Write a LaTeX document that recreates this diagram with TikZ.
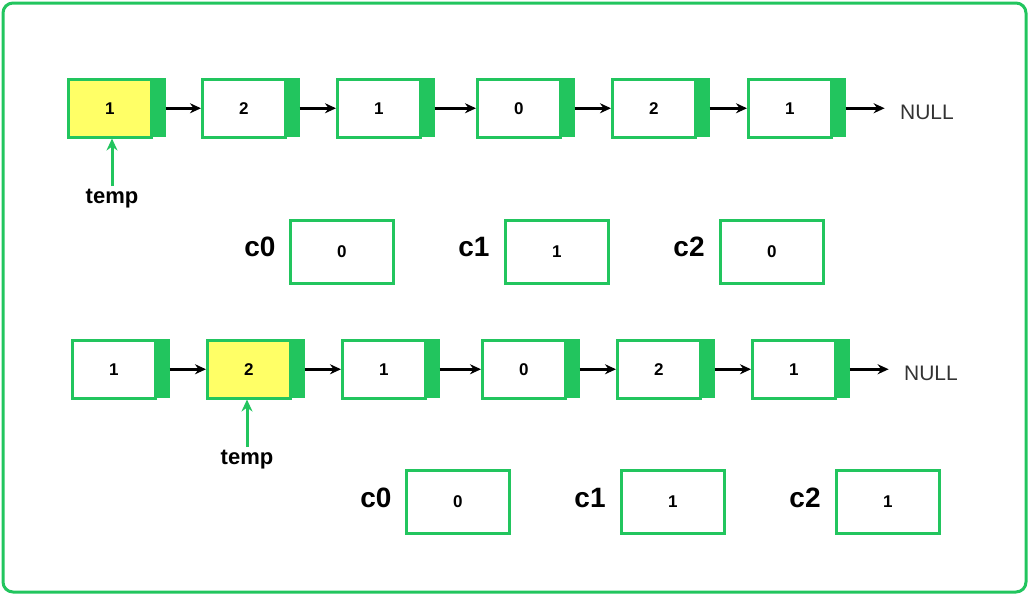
\documentclass[tikz,border=0pt]{standalone}
\usepackage{fontspec}
\setmainfont{Liberation Sans}
\usetikzlibrary{arrows.meta}
\definecolor{gg}{HTML}{22C55E}
\definecolor{yy}{HTML}{FFFF66}
\begin{document}
\begin{tikzpicture}[x=1pt,y=-1pt,
  cell/.style={draw=gg,line width=2.5pt,minimum width=83pt,minimum height=58pt,inner sep=0pt,font=\bfseries\fontsize{17}{20}\selectfont},
  cbox/.style={draw=gg,line width=2.5pt,minimum width=103pt,minimum height=63pt,inner sep=0pt,font=\bfseries\fontsize{17}{20}\selectfont},
  clab/.style={font=\bfseries\fontsize{28}{32}\selectfont},
  nulltxt/.style={font=\fontsize{21}{24}\selectfont,text=black!80},
  link/.style={-{Stealth[length=11pt,width=10pt]},line width=2.5pt},
  tarrow/.style={-{Stealth[length=12pt,width=11pt]},draw=gg,line width=3pt}]
\useasboundingbox (0,0) rectangle (1029,595);
\draw[gg,line width=3pt,rounded corners=10pt] (3,3) rectangle (1026,592);
% row 1
\foreach \i/\x/\v/\f in {1/67/1/yy,2/201/2/white,3/336/1/white,4/476/0/white,5/611/2/white,6/747/1/white}{
  \node[cell,fill=\f,anchor=north west] (a\i) at (\x,78) {\v};
  \fill[gg] (a\i.north east) rectangle ++(13,59);
  \coordinate (ar\i) at ([xshift=13pt]a\i.east);
}
\node[nulltxt] (n1) at (927,112) {NULL};
\foreach \i/\j in {1/2,2/3,3/4,4/5,5/6}{\draw[link] (ar\i) -- (a\j.west);}
\draw[link] (ar6) -- ([xshift=-12pt]ar6 -| n1.west);
\node[font=\bfseries\fontsize{22}{26}\selectfont] (t1) at (112,199) {temp};
\draw[tarrow] (t1.north) -- (a1.south -| t1.north);
% counters 1
\foreach \i/\lx/\bx/\v in {0/260/289/0,1/474/504/1,2/689/719/0}{
  \node[clab] (l1\i) at (\lx,247) {c\i};
  \node[cbox,anchor=north west] (b1\i) at (\bx,219) {\v};
}
% row 2
\foreach \i/\x/\v/\f in {1/71/1/white,2/206/2/yy,3/341/1/white,4/481/0/white,5/616/2/white,6/751/1/white}{
  \node[cell,fill=\f,anchor=north west] (c\i) at (\x,339) {\v};
  \fill[gg] (c\i.north east) rectangle ++(13,59);
  \coordinate (cr\i) at ([xshift=13pt]c\i.east);
}
\node[nulltxt] (n2) at (931,373) {NULL};
\foreach \i/\j in {1/2,2/3,3/4,4/5,5/6}{\draw[link] (cr\i) -- (c\j.west);}
\draw[link] (cr6) -- ([xshift=-12pt]cr6 -| n2.west);
\node[font=\bfseries\fontsize{22}{26}\selectfont] (t2) at (247,460) {temp};
\draw[tarrow] (t2.north) -- (c2.south -| t2.north);
% counters 2
\foreach \i/\lx/\bx/\v in {0/376/405/0,1/590/620/1,2/805/835/1}{
  \node[clab] (l2\i) at (\lx,498) {c\i};
  \node[cbox,anchor=north west] (b2\i) at (\bx,469) {\v};
}
\end{tikzpicture}
\end{document}
